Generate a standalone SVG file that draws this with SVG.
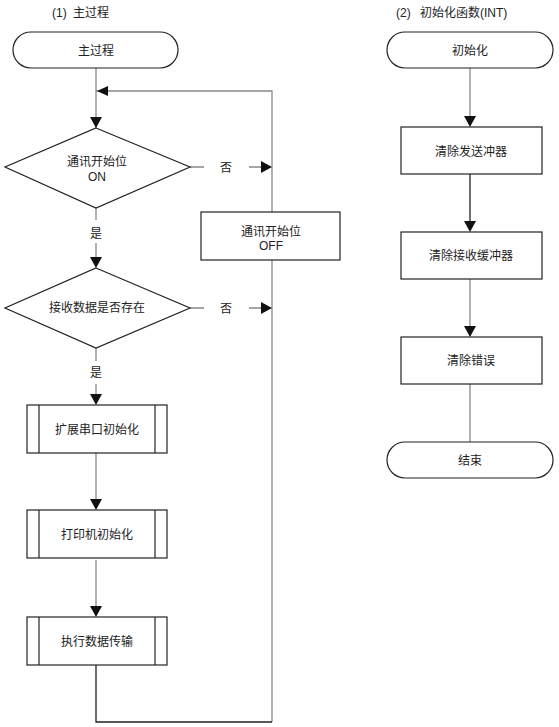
<svg xmlns="http://www.w3.org/2000/svg" width="559" height="727" viewBox="0 0 559 727">
<style>
text{font-family:"Liberation Sans","Noto Sans CJK SC",sans-serif;font-size:12px;fill:#222;text-anchor:middle}
.hd{text-anchor:start}
.shape{fill:#fff;stroke:#222;stroke-width:1.2}
.ln{fill:none;stroke:#888;stroke-width:1.3}
.dk{fill:none;stroke:#222;stroke-width:1.3}
.ah{fill:#111}
</style>
<rect width="559" height="727" fill="#fff"/>
<text class="hd" x="52" y="17">(1)<tspan x="73">主过程</tspan></text>
<text class="hd" x="396" y="17">(2)<tspan x="420">初始化函数(INT)</tspan></text>

<g id="connectors">
  <path class="ln" d="M96 68 V128"/>
  <path class="ln" d="M96 91 H272 V212"/>
  <path class="ln" d="M272 260 V722"/>
  <path class="dk" d="M96 665 V722 H272"/>
  <path class="ln" d="M190 167 H204 M249 167 H262"/>
  <path class="ln" d="M190 308 H204 M249 308 H262"/>
  <path class="ln" d="M96 208 V220 M96 243 V260"/>
  <path class="ln" d="M96 348 V361 M96 384 V398"/>
  <path class="ln" d="M96 453 V503"/>
  <path class="ln" d="M96 560 V610"/>
  <path class="ah" d="M97 91 L108 86 L108 96 Z"/>
  <path class="ah" d="M96 128 L90 117 L102 117 Z"/>
  <path class="ah" d="M272 167 L261 161 L261 173 Z"/>
  <path class="ah" d="M272 308 L261 302 L261 314 Z"/>
  <path class="ah" d="M96 268 L90 257 L102 257 Z"/>
  <path class="ah" d="M96 405 L90 394 L102 394 Z"/>
  <path class="ah" d="M96 510 L90 499 L102 499 Z"/>
  <path class="ah" d="M96 617 L90 606 L102 606 Z"/>
  <path class="ln" d="M470 68 V120"/>
  <path class="dk" d="M470 174 V225"/>
  <path class="ln" d="M470 279 V330"/>
  <path class="ln" d="M470 384 V442"/>
  <path class="ah" d="M470 127 L464 116 L476 116 Z"/>
  <path class="ah" d="M470 232 L464 221 L476 221 Z"/>
  <path class="ah" d="M470 337 L464 326 L476 326 Z"/>
  <text x="226" y="172">否</text>
  <text x="226" y="313">否</text>
  <text x="96" y="238">是</text>
  <text x="96" y="377">是</text>
</g>

<g id="start-main">
  <rect class="shape" x="13" y="32" width="165" height="36" rx="18"/>
  <text x="96" y="55">主过程</text>
</g>
<g id="dec-on">
  <path class="shape" d="M96 128 L190 167 L96 208 L5 167 Z"/>
  <text x="97" y="166">通讯开始位</text>
  <text x="97" y="181">ON</text>
</g>
<g id="box-off">
  <rect class="shape" x="201" y="212" width="139" height="48"/>
  <text x="271" y="236">通讯开始位</text>
  <text x="271" y="250">OFF</text>
</g>
<g id="dec-recv">
  <path class="shape" d="M96 268 L190 308 L96 348 L5 308 Z"/>
  <text x="97" y="312">接收数据是否存在</text>
</g>
<g id="proc-serial">
  <rect class="shape" x="27" y="405" width="140" height="48"/>
  <path class="shape" d="M39 405 V453 M155 405 V453"/>
  <text x="97" y="434">扩展串口初始化</text>
</g>
<g id="proc-printer">
  <rect class="shape" x="27" y="510" width="140" height="48"/>
  <path class="shape" d="M39 510 V558 M155 510 V558"/>
  <text x="97" y="539">打印机初始化</text>
</g>
<g id="proc-transfer">
  <rect class="shape" x="27" y="617" width="140" height="48"/>
  <path class="shape" d="M39 617 V665 M155 617 V665"/>
  <text x="97" y="646">执行数据传输</text>
</g>

<g id="start-init">
  <rect class="shape" x="387" y="32" width="166" height="36" rx="18"/>
  <text x="470" y="55">初始化</text>
</g>
<g id="clear-send">
  <rect class="shape" x="401" y="127" width="141" height="47"/>
  <text x="471" y="156">清除发送冲器</text>
</g>
<g id="clear-recv">
  <rect class="shape" x="401" y="232" width="141" height="47"/>
  <text x="471" y="260">清除接收缓冲器</text>
</g>
<g id="clear-err">
  <rect class="shape" x="401" y="337" width="141" height="47"/>
  <text x="471" y="365">清除错误</text>
</g>
<g id="end">
  <rect class="shape" x="387" y="442" width="166" height="36" rx="18"/>
  <text x="470" y="465">结束</text>
</g>
</svg>
